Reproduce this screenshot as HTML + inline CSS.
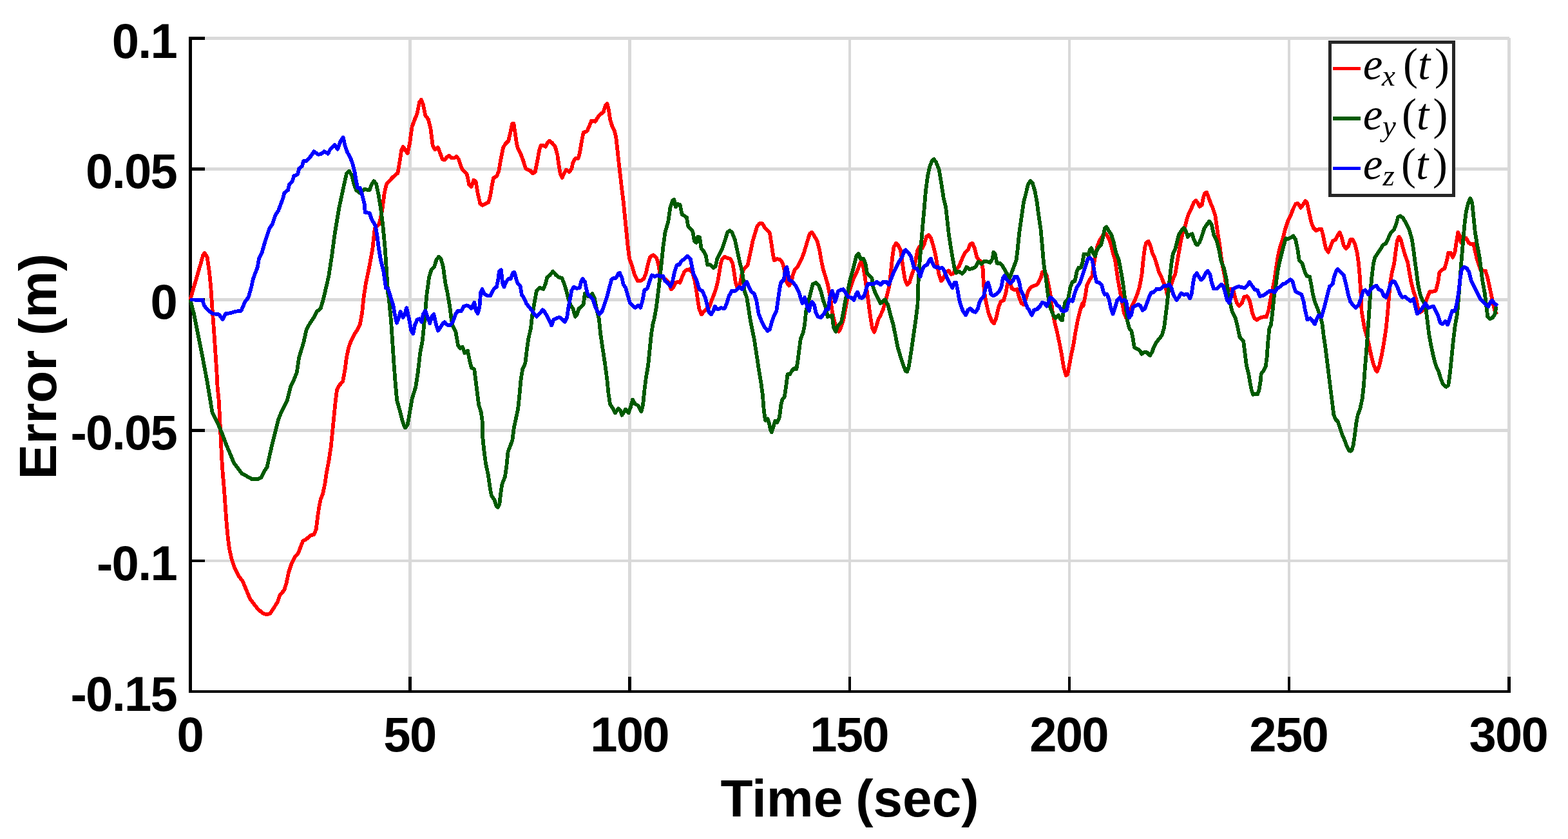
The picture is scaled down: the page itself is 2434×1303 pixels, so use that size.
<!DOCTYPE html>
<html lang="en"><head><meta charset="utf-8"><title>Error vs Time</title>
<style>html,body{margin:0;padding:0;background:#fff;}body{width:2434px;height:1303px;overflow:hidden;}svg{display:block;}.t{font-family:"Liberation Sans",sans-serif;font-weight:bold;fill:#000;}.m{font-family:"Liberation Serif","DejaVu Serif",serif;font-style:italic;fill:#000;}.r{font-family:"Liberation Serif","DejaVu Serif",serif;font-style:normal;fill:#000;}</style></head><body>
<svg width="2434" height="1303" viewBox="0 0 2434 1303" role="img" aria-label="Error versus time plot">
<rect x="0" y="0" width="2434" height="1303" fill="#ffffff"/>
<g fill="#d9d9d9" shape-rendering="crispEdges">
<rect x="634" y="57" width="5" height="1015"/>
<rect x="975" y="57" width="5" height="1015"/>
<rect x="1317" y="57" width="4" height="1015"/>
<rect x="1658" y="57" width="4" height="1015"/>
<rect x="1999" y="57" width="4" height="1015"/>
<rect x="2340" y="59" width="5" height="1013"/>
<rect x="298" y="57" width="2045" height="5"/>
<rect x="298" y="260" width="2047" height="5"/>
<rect x="298" y="463" width="2047" height="5"/>
<rect x="298" y="666" width="2047" height="5"/>
<rect x="298" y="869" width="2047" height="4"/>
</g>
<g fill="#000" shape-rendering="crispEdges">
<rect x="293" y="57" width="5" height="1019"/>
<rect x="293" y="1072" width="2052" height="4"/>
<rect x="634" y="1051" width="5" height="21"/>
<rect x="975" y="1051" width="5" height="21"/>
<rect x="1317" y="1051" width="4" height="21"/>
<rect x="1658" y="1051" width="4" height="21"/>
<rect x="1999" y="1051" width="4" height="21"/>
<rect x="2340" y="1051" width="5" height="21"/>
<rect x="298" y="57" width="20" height="5"/>
<rect x="298" y="260" width="20" height="5"/>
<rect x="298" y="463" width="20" height="5"/>
<rect x="298" y="666" width="20" height="5"/>
<rect x="298" y="869" width="20" height="4"/>
</g>
<g fill="none" stroke-width="5.8" stroke-linejoin="round" stroke-linecap="butt" shape-rendering="crispEdges">
<polyline stroke="#ff0000" points="295.3,465.5 304.6,433.3 311.3,410.3 315.0,396.9 317.5,393.0 321.5,398.8 324.9,421.8 327.2,444.8 329.5,479.4 331.8,509.1 334.1,543.6 336.4,578.2 337.6,601.2 339.9,624.2 341.0,647.3 342.2,670.3 343.3,693.3 344.5,716.4 346.1,740.1 346.8,746.1 348.6,769.1 350.2,792.1 351.9,815.2 353.7,833.6 356.0,852.0 359.5,868.1 364.1,881.9 369.8,893.5 376.7,902.7 382.5,916.5 388.2,930.3 395.2,939.5 400.9,946.4 407.8,952.2 413.6,954.5 419.3,952.9 425.1,944.1 430.8,934.9 434.3,924.5 441.2,916.5 444.7,905.0 448.1,888.8 452.7,875.0 457.3,865.8 463.1,858.9 466.5,849.7 470.0,840.5 475.8,837.0 482.7,831.3 487.3,830.1 490.7,822.1 493.0,803.6 495.3,787.5 497.6,776.0 501.1,766.8 504.5,750.7 506.8,734.5 510.3,716.4 513.8,693.3 516.1,670.3 518.4,647.3 520.7,624.2 523.0,605.8 526.4,598.9 532.2,592.0 535.6,573.6 537.9,555.2 541.4,539.0 544.8,529.8 550.6,518.3 555.2,511.4 558.7,504.5 562.1,486.1 564.4,463.0 567.9,440.2 573.6,412.6 578.2,387.3 581.7,355.0 588.6,348.1 593.2,327.4 596.7,299.8 600.1,285.9 609.3,275.6 617.4,268.7 620.8,249.1 623.2,233.0 625.8,227.9 629.2,233.6 632.7,238.2 636.1,222.1 639.6,196.8 643.0,187.6 647.6,176.1 651.1,158.8 653.9,154.9 656.8,162.2 660.3,179.5 664.9,185.3 668.4,199.1 671.8,226.7 675.3,232.5 679.9,229.0 683.3,238.2 686.8,247.5 690.2,248.6 693.7,244.0 697.2,241.7 700.6,245.2 705.2,245.6 708.7,242.8 712.1,247.5 716.7,261.3 720.2,265.9 724.8,270.5 728.2,286.6 731.7,290.1 735.2,279.7 738.6,282.0 742.1,302.7 745.5,316.5 749.0,318.8 753.6,316.5 758.2,314.2 760.9,305.0 763.9,286.6 766.2,276.2 770.8,273.9 774.3,265.9 777.8,245.2 781.2,229.0 784.7,223.3 789.3,218.7 792.7,203.7 795.0,192.2 797.3,191.7 799.6,206.0 801.9,222.1 804.2,231.3 808.8,240.5 812.3,249.8 815.8,261.3 819.2,263.6 822.7,264.7 827.3,269.3 830.7,267.0 834.2,249.8 837.6,231.3 839.9,225.6 843.4,225.6 846.8,227.9 850.3,221.0 852.6,218.7 857.2,222.1 861.8,227.9 865.3,240.5 867.6,256.7 869.9,270.5 872.6,276.2 875.6,269.3 879.1,263.6 883.7,267.0 887.2,262.4 889.5,252.1 892.9,246.3 897.5,246.3 899.8,238.2 903.3,217.5 905.6,206.0 911.3,203.7 914.8,195.6 918.2,187.6 924.0,188.7 929.8,179.5 936.7,173.8 940.1,163.4 942.4,161.1 944.7,169.2 947.0,185.3 950.5,196.8 953.9,203.7 956.2,212.9 958.5,233.6 960.8,254.4 963.2,275.1 965.5,295.8 967.8,314.2 970.1,337.3 972.4,360.3 974.7,383.3 977.0,401.8 980.7,411.3 985.3,427.4 989.9,436.6 994.5,436.1 999.2,433.2 1002.6,425.1 1006.1,409.0 1009.5,398.6 1014.1,396.3 1018.7,399.8 1021.7,409.0 1024.5,425.1 1029.1,432.0 1033.7,434.3 1038.3,438.9 1041.8,449.3 1045.2,445.8 1048.7,438.9 1052.1,437.8 1055.6,438.9 1059.0,429.7 1062.5,421.6 1065.9,419.3 1070.5,418.2 1075.2,423.9 1078.6,436.6 1080.9,450.4 1083.2,466.5 1085.5,480.4 1089.0,488.4 1092.4,483.8 1095.9,480.4 1100.5,478.1 1103.9,468.8 1107.4,459.6 1110.8,450.4 1114.3,436.6 1116.6,422.8 1118.9,409.0 1121.2,402.1 1124.7,398.6 1129.3,400.9 1133.9,402.1 1137.3,409.0 1139.6,422.8 1141.9,438.9 1144.2,445.8 1148.8,441.2 1151.2,427.4 1154.6,418.2 1160.4,412.4 1162.7,402.1 1166.1,385.9 1168.4,374.4 1171.9,362.9 1175.3,351.4 1178.8,347.2 1183.4,347.2 1188.0,354.8 1191.5,358.3 1194.9,361.8 1197.2,376.7 1199.5,392.8 1201.8,404.4 1206.4,402.1 1211.0,403.2 1214.5,407.8 1216.8,415.9 1219.1,427.4 1221.4,438.9 1224.8,443.5 1228.3,438.9 1230.6,427.4 1234.1,418.2 1238.7,413.6 1243.3,404.4 1247.9,392.8 1251.3,381.3 1254.8,369.8 1257.1,362.9 1260.5,360.6 1264.0,366.4 1268.6,374.4 1272.1,388.2 1274.4,402.1 1277.8,418.2 1281.3,429.7 1284.7,441.2 1287.0,452.7 1289.3,464.2 1291.6,482.7 1295.1,498.8 1298.5,510.3 1302.0,514.9 1304.6,510.2 1309.2,496.4 1312.7,477.9 1316.1,459.5 1320.7,445.7 1325.3,431.9 1329.9,422.7 1333.4,413.5 1336.8,405.4 1340.3,415.8 1342.6,429.6 1344.9,445.7 1347.2,461.8 1349.5,480.2 1351.8,496.4 1354.1,510.2 1357.1,515.9 1359.9,507.9 1363.3,496.4 1366.8,489.5 1370.2,482.5 1373.7,471.0 1377.2,457.2 1380.6,443.4 1382.9,422.7 1385.2,399.6 1387.5,383.5 1391.0,377.8 1394.4,381.2 1397.9,388.1 1400.2,404.2 1402.5,420.4 1404.8,434.2 1408.2,442.2 1411.7,438.8 1415.2,427.3 1418.6,418.1 1420.9,406.5 1424.4,388.1 1427.8,382.4 1431.3,385.8 1434.7,378.9 1438.2,367.4 1441.6,365.1 1445.1,369.7 1448.5,381.2 1452.0,395.0 1454.8,411.2 1457.8,427.3 1461.2,436.5 1464.7,431.9 1468.1,422.7 1472.7,420.4 1476.2,426.1 1479.6,425.0 1484.2,418.1 1488.8,413.5 1493.5,401.9 1498.1,392.7 1502.7,388.1 1506.1,378.9 1509.6,377.8 1513.0,385.8 1516.5,399.6 1519.9,404.2 1523.4,406.5 1525.7,418.1 1526.8,438.8 1528.5,457.2 1531.5,473.3 1534.9,487.2 1539.5,498.7 1543.0,502.1 1546.4,494.1 1549.9,477.9 1553.3,468.7 1557.9,466.4 1561.4,454.9 1563.7,441.1 1567.2,434.2 1570.6,448.0 1575.2,450.3 1578.7,449.2 1582.1,461.8 1585.6,471.0 1589.0,473.3 1592.5,464.1 1595.9,452.6 1600.5,445.7 1606.3,443.4 1610.9,441.1 1615.5,431.9 1617.8,422.7 1621.3,421.5 1624.7,427.3 1627.0,438.8 1630.5,457.2 1633.9,485.2 1637.4,501.3 1640.8,515.2 1644.3,531.3 1647.8,549.7 1651.2,570.4 1654.7,583.1 1657.0,581.9 1659.3,570.4 1662.7,552.0 1666.2,535.9 1669.6,515.2 1673.1,496.7 1676.5,482.9 1680.0,471.4 1681.5,475.0 1684.9,458.8 1687.2,442.7 1690.7,435.8 1695.3,428.9 1697.6,412.8 1699.9,399.0 1703.3,382.8 1706.8,373.6 1711.4,366.7 1716.0,362.1 1720.6,369.0 1724.1,378.2 1727.5,392.1 1731.0,403.6 1733.3,419.7 1735.6,435.8 1739.0,454.2 1742.5,472.7 1744.8,486.5 1748.2,493.4 1752.8,491.1 1756.3,477.3 1760.9,468.1 1765.5,456.5 1769.0,445.0 1772.4,426.6 1774.7,403.6 1777.0,385.2 1779.3,377.1 1782.8,374.8 1786.2,382.8 1788.5,392.1 1792.0,399.0 1795.5,410.5 1798.9,422.0 1802.4,428.9 1805.8,438.1 1809.3,445.0 1811.6,456.5 1815.0,451.9 1818.5,440.4 1821.9,431.2 1824.2,426.6 1826.5,412.8 1828.8,399.0 1832.3,378.2 1835.8,362.1 1839.2,352.9 1842.7,339.1 1846.1,329.9 1849.6,323.0 1853.0,314.9 1856.5,311.5 1859.9,316.1 1862.2,320.7 1865.7,318.4 1868.0,306.8 1870.3,299.9 1873.1,298.8 1876.1,306.8 1879.5,316.1 1883.0,324.1 1886.4,334.5 1888.7,350.6 1891.0,366.7 1893.3,380.5 1895.6,399.0 1897.9,412.8 1901.4,431.2 1903.7,447.3 1907.2,451.9 1910.6,448.5 1914.1,449.6 1916.4,458.8 1919.8,470.4 1923.3,475.0 1927.9,470.4 1931.3,461.2 1935.9,460.0 1939.4,465.8 1941.7,475.0 1944.0,486.5 1947.5,494.5 1950.9,496.8 1956.7,493.4 1961.3,492.2 1965.9,492.2 1969.3,481.9 1971.6,468.1 1975.1,451.9 1978.5,433.5 1980.8,417.4 1983.5,399.8 1986.9,383.6 1991.5,369.8 1995.0,356.0 1999.6,342.2 2004.2,333.0 2007.6,323.8 2011.1,316.8 2014.5,315.7 2019.2,322.6 2022.6,318.0 2026.1,312.2 2028.8,314.5 2031.8,328.4 2035.3,344.5 2038.7,353.7 2043.3,358.3 2047.9,356.0 2051.4,356.0 2053.7,365.2 2056.0,376.7 2058.3,385.9 2061.8,391.7 2065.2,383.6 2068.7,374.4 2073.3,372.1 2076.7,365.2 2079.5,360.6 2082.5,367.5 2085.9,381.3 2089.4,385.9 2092.8,382.5 2096.3,372.1 2099.8,372.1 2103.2,379.0 2106.7,392.8 2109.0,409.0 2110.8,429.7 2112.4,455.0 2113.6,482.7 2115.9,496.5 2118.2,510.3 2121.6,521.8 2125.1,535.6 2128.5,551.8 2132.0,565.6 2135.5,574.8 2137.8,577.1 2141.2,567.9 2144.7,551.8 2148.1,533.3 2151.6,510.3 2153.9,487.3 2156.2,459.6 2158.5,436.6 2160.8,422.8 2164.2,409.0 2166.5,390.5 2168.8,374.4 2171.6,367.5 2174.6,372.1 2178.1,385.9 2181.5,397.5 2185.0,406.7 2187.3,420.5 2190.7,438.9 2194.2,452.7 2197.6,461.9 2201.1,478.1 2204.5,485.0 2208.0,482.7 2211.5,473.5 2214.9,464.2 2219.5,452.7 2224.1,452.7 2228.7,451.6 2232.2,438.9 2234.5,422.8 2237.9,419.3 2242.5,417.0 2246.0,404.4 2248.3,392.8 2251.8,392.8 2255.2,399.8 2258.7,390.5 2261.0,374.4 2263.3,360.6 2265.6,365.2 2267.9,376.7 2271.3,372.1 2275.9,369.8 2279.4,376.7 2282.8,379.0 2287.5,379.0 2289.8,390.5 2293.2,404.4 2297.8,418.2 2302.4,420.5 2305.9,420.5 2309.3,432.0 2312.8,448.1 2316.2,464.2 2319.7,480.4 2323.2,488.4"/>
<polyline stroke="#005a00" points="295.3,465.5 300.7,486.1 307.6,520.6 314.5,555.2 321.5,592.0 326.1,619.6 329.5,640.4 337.6,656.5 344.5,672.6 351.4,691.0 358.3,707.2 362.9,718.7 369.8,727.9 375.6,735.7 382.5,739.2 390.5,743.8 399.8,744.4 405.5,741.5 410.1,732.2 414.7,725.3 417.0,714.1 422.8,688.7 427.4,670.3 432.0,651.9 436.6,640.4 445.8,621.9 451.6,598.9 456.2,589.7 460.8,578.2 464.2,555.2 471.2,532.1 475.8,511.4 480.4,503.3 487.3,493.0 491.9,483.8 497.6,479.2 501.1,467.6 504.5,453.8 510.3,428.7 514.9,398.8 519.5,364.2 526.4,322.8 533.3,290.5 537.9,269.8 541.9,265.7 546.0,272.1 549.5,285.9 552.9,295.2 558.7,299.8 565.6,294.0 573.6,295.2 577.1,285.9 580.5,281.3 584.0,285.9 587.5,302.1 590.9,322.8 594.4,350.4 597.8,387.3 600.1,421.8 602.4,456.4 603.6,463.0 607.0,497.6 609.3,532.1 611.6,566.7 613.9,596.6 616.2,621.9 620.8,638.1 625.5,656.5 628.9,664.5 632.7,659.8 636.1,640.2 639.6,619.5 645.3,601.1 648.8,578.1 652.2,548.1 655.7,529.7 659.2,495.2 662.6,456.0 666.1,430.7 669.5,419.2 674.1,414.5 677.6,403.0 681.0,398.9 684.5,401.9 687.9,414.5 691.4,439.9 694.8,456.0 698.3,476.7 700.6,495.2 702.9,506.7 707.5,515.9 711.0,536.6 714.4,541.2 717.9,538.9 721.3,548.1 725.9,544.7 729.4,561.9 731.7,571.2 736.3,573.5 738.6,591.9 740.9,610.3 743.2,628.7 746.7,640.2 749.0,656.4 749.4,680.6 751.3,699.0 754.0,719.8 757.5,735.9 760.5,756.6 762.8,769.3 767.4,776.2 770.8,786.5 773.2,787.7 775.5,781.9 777.3,765.8 779.4,752.0 784.0,740.5 786.3,724.4 788.6,701.3 792.3,692.1 795.5,682.9 797.8,664.5 800.8,650.7 804.2,634.5 806.5,612.6 808.8,587.3 811.2,573.5 815.3,564.2 818.1,541.2 820.4,525.1 823.8,511.3 826.1,490.5 829.6,469.8 833.0,451.4 837.6,446.8 843.4,449.1 846.8,441.0 849.2,430.7 853.8,427.2 858.4,421.5 863.0,427.2 867.6,430.7 872.2,431.8 875.6,439.9 879.1,451.4 882.5,465.2 886.0,474.4 889.5,479.0 892.9,491.7 895.2,489.4 898.7,479.0 902.1,476.7 905.6,473.3 907.9,456.0 911.3,459.5 915.9,460.6 919.4,456.0 922.8,462.9 926.3,481.3 929.8,495.2 932.1,518.2 935.5,541.2 939.0,564.2 942.4,589.6 944.7,612.6 947.0,627.6 951.6,634.5 955.1,641.4 959.7,634.5 963.2,637.9 965.5,644.8 971.2,635.6 975.8,641.4 979.3,631.0 982.0,620.7 986.2,627.6 990.8,629.9 995.4,639.1 998.0,629.7 1000.3,606.7 1002.6,588.2 1006.1,567.5 1008.4,544.5 1010.7,521.5 1013.4,503.0 1015.3,496.5 1018.7,478.1 1022.2,450.4 1025.6,420.5 1029.1,385.9 1032.5,360.6 1037.2,344.5 1040.6,321.5 1044.1,311.1 1046.4,309.9 1048.7,321.5 1052.1,316.8 1055.6,318.0 1058.6,333.0 1062.5,335.3 1065.9,337.6 1068.2,351.4 1071.7,354.8 1075.2,359.5 1077.9,374.4 1080.9,376.7 1083.2,367.5 1086.2,368.7 1088.5,385.9 1092.4,390.5 1095.9,397.5 1098.2,411.3 1102.8,411.3 1107.4,415.9 1110.8,413.6 1113.2,402.1 1116.6,395.2 1121.2,385.9 1125.8,372.1 1129.3,360.6 1132.7,358.3 1136.2,360.6 1140.8,372.1 1144.2,388.2 1147.7,404.4 1151.2,418.2 1153.5,432.0 1155.8,452.7 1159.2,461.9 1161.5,475.8 1163.8,491.9 1167.3,510.3 1170.7,526.4 1174.2,549.1 1177.6,572.1 1181.1,592.8 1183.9,613.6 1185.7,636.6 1188.0,652.7 1191.5,650.4 1193.8,657.3 1196.1,667.7 1197.9,671.2 1200.7,661.9 1203.0,653.9 1206.4,656.2 1209.9,648.1 1212.2,629.7 1214.5,620.5 1217.9,615.9 1220.2,599.8 1222.5,581.3 1226.0,581.3 1229.5,575.6 1232.9,572.1 1236.4,573.3 1238.7,558.3 1241.0,539.9 1242.8,526.1 1246.7,516.8 1249.0,505.3 1251.3,482.7 1254.8,468.8 1257.1,459.6 1259.4,450.4 1261.7,441.2 1266.3,438.9 1270.9,443.5 1274.4,452.7 1277.8,466.5 1281.3,475.8 1284.7,491.9 1288.2,490.7 1291.6,489.6 1293.9,508.0 1297.4,514.9 1300.8,505.7 1305.8,501.0 1309.2,484.8 1312.7,464.1 1316.1,452.6 1319.6,434.2 1323.0,422.7 1326.5,408.8 1329.5,397.3 1332.7,393.9 1335.7,401.9 1340.3,401.9 1343.3,408.8 1346.1,425.0 1349.5,428.4 1353.4,431.9 1355.3,445.7 1358.7,454.9 1363.3,464.1 1366.8,471.0 1370.2,468.7 1373.7,465.3 1378.3,473.3 1381.8,487.5 1386.4,503.6 1389.8,519.8 1393.3,538.2 1397.9,554.3 1402.5,568.1 1405.9,576.2 1408.2,577.3 1410.5,570.4 1412.8,556.6 1415.2,540.5 1417.5,524.4 1419.8,508.2 1422.1,492.1 1424.4,473.7 1425.5,438.8 1427.8,404.2 1430.1,376.6 1432.4,349.0 1434.7,323.6 1437.0,296.0 1440.5,270.7 1443.9,256.8 1447.4,248.8 1449.7,247.2 1453.2,252.2 1457.8,263.8 1461.2,284.5 1464.7,307.5 1468.1,321.3 1470.4,342.1 1472.7,362.8 1475.5,381.2 1478.5,399.6 1481.9,418.1 1484.2,423.8 1488.8,421.5 1493.5,425.0 1496.9,421.5 1500.4,414.6 1505.0,418.1 1509.6,416.9 1514.2,414.6 1518.8,406.5 1523.4,410.0 1528.0,405.4 1532.6,406.5 1537.2,407.7 1540.7,401.9 1542.3,391.6 1544.6,393.9 1547.6,408.8 1552.2,408.8 1555.6,412.3 1559.1,418.1 1563.7,426.1 1567.2,431.9 1570.6,422.7 1574.1,413.5 1577.5,404.2 1579.8,385.8 1582.1,362.8 1585.6,337.5 1589.0,314.4 1592.5,300.6 1595.9,286.8 1599.4,281.0 1602.8,284.5 1606.3,296.0 1609.8,314.4 1612.1,332.8 1615.5,355.9 1617.8,381.2 1620.1,408.8 1623.6,431.9 1627.0,459.5 1630.5,477.9 1635.1,489.5 1638.5,494.1 1643.2,489.5 1646.6,496.4 1648.9,497.5 1651.2,480.2 1653.5,468.7 1658.1,464.1 1661.6,445.7 1665.0,437.6 1668.5,436.5 1671.9,420.4 1674.2,415.8 1677.7,415.8 1680.3,408.2 1682.6,394.4 1686.1,394.4 1689.5,396.7 1691.8,387.5 1694.1,385.2 1696.4,392.1 1699.9,397.8 1702.2,389.8 1705.6,384.0 1709.1,380.5 1712.5,366.7 1714.8,355.2 1717.6,352.4 1720.6,357.5 1725.2,364.4 1728.7,375.9 1732.1,392.1 1736.7,403.6 1740.2,422.0 1743.6,442.7 1745.9,461.2 1748.2,481.9 1750.5,500.3 1752.8,509.5 1756.3,514.1 1758.6,525.6 1760.9,539.5 1765.5,541.8 1769.0,544.1 1772.4,549.8 1777.0,546.4 1780.5,547.5 1785.1,552.1 1788.5,546.4 1790.8,539.5 1794.3,532.5 1798.9,526.8 1803.5,521.0 1807.0,509.5 1809.3,491.1 1811.6,472.7 1813.9,449.6 1816.2,428.9 1818.5,408.2 1820.8,394.4 1824.2,387.5 1827.7,373.6 1830.0,364.4 1833.5,358.7 1837.6,354.1 1840.4,357.5 1843.8,367.9 1847.3,364.4 1850.7,363.3 1853.0,371.3 1856.5,379.4 1858.8,380.5 1862.2,375.9 1865.7,366.7 1869.2,355.2 1873.8,348.3 1877.2,343.7 1880.7,348.3 1884.1,364.4 1888.7,373.6 1892.2,387.5 1895.6,405.9 1900.2,417.4 1903.7,433.5 1906.0,451.9 1909.5,470.4 1912.9,484.2 1917.5,493.4 1921.0,507.2 1924.4,523.3 1930.2,530.2 1932.5,548.2 1934.8,566.7 1938.2,580.5 1940.5,594.3 1942.8,605.8 1945.2,612.7 1948.6,611.6 1952.1,612.3 1954.4,605.8 1956.7,592.0 1957.8,580.5 1961.3,575.9 1964.7,569.0 1966.6,555.2 1968.2,532.1 1970.5,509.1 1972.8,504.9 1975.1,486.5 1977.4,463.5 1980.8,440.4 1983.2,422.0 1985.5,410.5 1988.9,396.7 1992.4,382.8 1995.8,370.2 1999.6,371.0 2004.2,368.7 2007.6,366.4 2011.1,372.1 2014.5,388.2 2016.8,404.4 2021.5,409.0 2024.9,420.5 2028.4,428.5 2033.0,429.7 2035.3,441.2 2037.6,455.0 2041.0,468.8 2045.6,480.4 2049.1,489.6 2052.5,503.4 2054.8,522.2 2057.2,538.3 2059.5,556.7 2061.8,575.2 2064.1,593.6 2066.4,612.0 2068.7,630.4 2070.3,644.2 2073.3,651.2 2076.7,654.6 2080.2,665.0 2083.6,675.3 2087.1,683.4 2090.5,692.6 2094.0,699.5 2096.3,700.7 2098.6,698.4 2100.9,690.3 2103.2,674.2 2105.5,655.8 2107.8,644.2 2111.3,635.0 2114.7,618.9 2117.0,598.2 2118.6,575.2 2120.5,552.1 2122.3,529.1 2125.1,487.3 2127.4,452.7 2129.7,427.4 2132.0,409.0 2134.3,399.8 2138.9,392.8 2143.5,385.9 2147.0,380.2 2151.6,377.9 2156.2,367.5 2159.6,360.6 2164.2,356.0 2167.7,346.8 2170.0,337.6 2173.5,335.3 2178.1,338.7 2182.7,346.8 2187.3,356.0 2191.9,372.1 2194.2,388.2 2196.5,406.7 2198.8,422.8 2201.1,441.2 2204.5,457.3 2208.0,466.5 2211.5,471.2 2213.8,482.7 2216.1,501.5 2218.4,519.9 2221.8,538.3 2225.3,554.4 2228.7,567.1 2233.3,577.5 2236.8,589.0 2240.2,597.0 2244.8,600.9 2248.3,598.2 2249.9,586.7 2251.8,570.5 2253.6,552.1 2255.9,529.1 2258.7,506.1 2262.1,487.3 2264.4,459.6 2266.7,429.7 2269.0,399.8 2271.3,372.1 2273.6,346.8 2275.9,328.4 2279.4,314.5 2282.2,308.1 2285.2,314.5 2287.5,337.6 2289.8,360.6 2293.2,381.3 2296.7,399.8 2299.0,418.2 2301.3,436.6 2304.7,455.0 2307.0,473.5 2309.3,491.9 2312.8,495.3 2317.4,493.0 2320.8,487.3 2322.5,475.8"/>
<polyline stroke="#0000ff" points="295.3,465.5 314.5,465.8 316.8,474.5 323.8,482.6 330.7,487.2 339.9,488.4 345.6,496.0 350.2,487.2 358.3,486.1 365.2,483.8 374.4,482.6 377.9,474.5 380.2,468.8 384.8,463.0 385.9,461.0 390.5,444.8 392.8,433.3 399.8,414.9 402.1,401.1 406.7,391.9 411.3,375.8 418.2,355.0 422.8,348.1 427.4,334.3 432.0,327.4 435.5,318.2 438.9,309.0 441.2,299.8 447.0,295.2 449.3,285.9 453.9,281.3 456.2,273.3 461.9,271.0 464.2,261.8 468.8,258.3 471.2,250.2 475.8,250.2 482.7,242.2 487.3,235.3 494.2,239.9 498.8,238.7 503.4,235.3 509.2,238.7 512.6,231.8 519.5,224.9 524.1,231.8 528.7,219.2 532.6,213.4 535.6,226.1 539.1,236.4 543.7,244.5 547.2,253.7 550.6,267.5 552.9,281.3 555.2,291.7 558.7,291.7 562.1,302.1 565.6,315.9 566.7,329.7 573.6,330.8 577.1,341.2 582.8,350.4 585.2,364.2 587.5,382.7 590.9,403.4 595.5,421.8 599.0,447.2 602.4,448.3 607.0,463.3 610.5,474.5 612.8,488.4 615.8,501.7 618.5,495.3 621.5,483.8 625.5,493.0 627.8,489.5 631.2,478.0 635.0,495.2 638.4,513.6 641.2,518.2 644.2,504.4 647.6,496.3 651.1,495.2 654.5,499.8 656.8,488.2 660.3,482.5 663.8,492.8 667.2,502.1 670.7,490.5 673.4,488.2 676.4,502.1 679.9,513.6 683.3,509.0 687.9,502.1 690.2,500.2 693.7,504.4 698.3,505.5 702.9,499.8 707.5,487.1 711.0,482.5 715.6,483.6 720.2,475.6 724.8,474.4 728.2,475.6 731.7,479.0 736.3,469.8 738.6,481.3 741.6,487.1 744.4,476.7 746.2,453.7 748.5,449.1 752.4,457.2 757.0,459.5 760.9,459.5 765.1,451.4 767.4,447.9 770.8,445.6 773.2,435.3 774.8,421.5 777.8,419.2 780.1,439.9 782.4,445.6 785.8,437.6 789.3,433.0 792.7,433.0 796.2,423.8 798.5,422.6 801.9,435.3 804.2,441.0 807.7,444.5 810.0,458.3 813.5,462.9 816.9,471.0 820.4,475.6 825.0,481.3 829.6,488.2 833.0,491.7 837.6,487.1 842.2,481.3 845.7,484.8 850.3,492.8 853.8,499.8 856.1,505.5 859.5,496.3 864.1,494.0 868.7,492.8 873.3,496.3 876.8,499.8 880.2,492.8 882.5,476.7 884.8,465.2 887.2,451.4 890.6,445.6 895.2,447.9 899.8,446.8 902.1,437.6 904.4,433.0 907.9,437.6 910.2,449.1 912.5,457.2 915.9,460.6 920.5,465.2 924.0,476.7 927.5,483.6 930.4,488.2 934.4,483.6 937.8,474.4 942.4,460.6 945.9,446.8 949.3,434.1 952.8,431.8 956.2,431.8 959.7,424.9 962.0,423.8 965.5,431.8 967.8,442.2 971.2,446.8 974.7,459.5 978.1,471.0 982.7,475.6 986.2,477.9 990.8,474.4 994.2,477.9 998.0,464.2 1000.3,450.4 1004.9,448.1 1008.4,436.6 1011.8,427.4 1016.4,429.7 1021.0,427.4 1025.6,429.7 1029.1,428.5 1032.5,436.6 1036.0,438.9 1040.6,444.7 1044.1,436.6 1047.5,420.5 1051.0,411.3 1054.4,411.3 1057.9,405.5 1062.5,402.1 1067.1,397.5 1071.7,402.1 1074.0,413.6 1076.3,425.1 1080.9,434.3 1085.5,449.3 1090.1,451.6 1094.7,461.9 1098.2,475.8 1100.5,485.0 1103.9,488.4 1107.4,482.7 1109.7,475.8 1114.3,480.4 1118.9,478.1 1124.7,479.2 1128.1,471.2 1131.6,459.6 1136.2,451.6 1141.9,451.6 1147.7,445.8 1152.3,449.3 1155.8,442.4 1159.2,437.8 1162.7,445.8 1166.1,452.7 1170.7,456.2 1174.2,466.5 1177.6,487.3 1182.2,498.8 1186.8,508.0 1191.5,513.8 1194.9,511.5 1198.4,498.8 1201.8,489.6 1205.3,482.7 1207.6,466.5 1209.9,450.4 1212.2,438.9 1216.8,434.3 1219.1,418.2 1221.4,414.7 1224.8,434.3 1230.6,437.8 1236.4,445.8 1239.8,452.7 1243.3,464.2 1245.6,471.2 1249.0,461.9 1251.3,468.8 1253.6,478.1 1255.9,482.7 1258.2,473.5 1260.5,468.8 1264.0,473.5 1266.3,485.0 1269.8,491.9 1274.4,493.0 1279.0,487.3 1282.4,480.4 1285.9,480.4 1288.2,461.9 1291.6,451.6 1293.9,457.3 1296.2,468.8 1298.5,461.9 1300.8,452.7 1304.6,450.3 1309.2,449.2 1312.7,454.9 1316.1,460.7 1320.7,461.8 1325.3,466.0 1328.8,457.2 1331.1,453.8 1334.5,461.8 1338.0,463.0 1341.5,459.5 1344.9,448.0 1347.2,441.1 1351.8,441.1 1356.4,441.1 1361.0,437.6 1366.8,442.2 1371.4,437.6 1376.0,437.6 1379.5,442.2 1382.9,434.2 1386.4,425.0 1391.0,415.8 1395.6,406.5 1400.2,399.6 1403.6,390.4 1405.9,388.1 1410.5,392.7 1414.0,398.5 1416.3,406.5 1418.6,415.8 1423.2,416.9 1426.2,422.7 1428.5,429.6 1431.3,420.4 1434.7,413.5 1439.3,411.2 1442.8,404.2 1445.1,401.9 1447.4,408.8 1450.8,414.6 1455.5,414.6 1458.9,416.9 1462.4,415.8 1465.8,420.4 1469.3,429.6 1472.7,436.5 1476.2,443.4 1478.5,446.8 1481.9,438.8 1484.2,438.8 1486.5,450.3 1488.8,464.1 1491.2,473.3 1494.6,482.5 1499.2,489.5 1502.7,481.4 1506.1,479.1 1510.7,483.7 1514.2,484.8 1517.6,480.2 1519.9,471.0 1523.4,464.1 1526.8,460.7 1529.2,450.3 1531.5,441.1 1533.8,438.8 1536.1,445.7 1538.4,457.2 1541.8,459.5 1546.4,457.2 1551.0,452.6 1554.5,445.7 1556.8,431.9 1559.1,428.4 1562.5,434.2 1568.3,439.9 1572.9,435.3 1575.2,429.6 1578.7,429.6 1582.1,437.6 1584.4,450.3 1587.9,457.2 1591.3,468.7 1594.8,477.9 1598.2,482.5 1601.7,489.5 1605.2,481.4 1609.8,480.2 1614.4,475.6 1617.8,469.9 1621.3,471.0 1624.7,475.6 1628.2,467.6 1630.5,461.8 1633.9,464.1 1637.4,467.6 1640.8,474.5 1644.3,475.6 1647.8,482.5 1651.2,483.7 1655.8,481.4 1658.1,471.0 1660.4,465.3 1665.0,467.6 1668.5,454.9 1671.9,445.7 1676.5,438.8 1679.2,431.2 1682.6,420.8 1686.1,410.5 1688.4,402.4 1691.8,400.1 1695.3,403.6 1697.6,415.1 1699.9,428.9 1702.2,438.1 1706.8,439.3 1710.2,442.7 1712.5,451.9 1714.8,457.7 1718.3,456.5 1721.8,465.8 1724.1,477.3 1727.5,487.6 1731.0,477.3 1734.4,465.8 1737.9,462.3 1741.3,468.1 1744.8,465.8 1748.2,468.1 1750.5,481.9 1752.8,493.4 1756.3,488.8 1758.6,477.3 1762.1,475.0 1766.7,472.7 1770.1,475.0 1773.6,481.9 1777.0,479.6 1780.5,470.4 1783.9,461.2 1787.4,454.2 1790.8,454.2 1795.5,448.5 1800.1,449.6 1803.5,447.3 1807.0,443.9 1811.6,443.9 1815.0,441.6 1818.5,447.3 1821.9,458.8 1826.5,465.8 1830.0,461.2 1833.5,455.4 1838.1,457.7 1842.7,456.5 1847.3,463.5 1849.6,456.5 1851.9,440.4 1854.2,428.9 1857.6,424.3 1861.1,430.1 1864.5,434.7 1868.0,431.2 1871.5,424.3 1874.9,420.8 1878.4,426.6 1880.7,438.1 1884.1,448.5 1888.7,448.5 1892.2,445.0 1895.6,441.6 1899.1,445.0 1902.5,456.5 1904.8,465.8 1908.3,470.4 1911.8,458.8 1914.1,448.5 1918.7,446.2 1923.3,445.0 1927.9,446.2 1932.5,447.3 1935.9,443.9 1939.4,438.1 1942.8,442.7 1947.5,449.6 1952.1,450.8 1955.5,460.0 1961.3,458.8 1965.9,455.4 1970.5,451.9 1975.1,451.9 1978.5,454.2 1982.0,448.5 1988.1,444.7 1991.5,441.2 1995.0,440.1 1999.6,436.6 2003.0,434.3 2006.5,436.6 2008.8,445.8 2011.1,452.7 2015.7,455.0 2020.3,457.3 2023.8,468.8 2026.1,482.7 2029.5,496.5 2034.1,494.2 2037.6,498.8 2041.0,503.4 2044.5,494.2 2046.8,489.6 2051.4,491.9 2054.8,480.4 2058.3,466.5 2061.8,452.7 2064.1,444.7 2068.7,441.2 2071.0,429.7 2074.4,420.5 2076.7,418.2 2081.3,422.8 2085.9,427.4 2089.4,441.2 2092.8,457.3 2096.3,468.8 2100.9,474.6 2104.4,478.1 2109.0,473.5 2112.4,464.2 2115.9,452.7 2119.3,450.4 2123.9,457.3 2127.4,449.3 2132.0,445.8 2136.6,443.5 2140.1,449.3 2144.7,451.6 2148.1,459.6 2151.6,461.9 2155.0,452.7 2158.5,441.2 2161.9,436.6 2165.4,437.8 2168.8,444.7 2173.5,457.3 2176.9,461.9 2181.5,460.8 2185.0,464.2 2189.6,467.7 2194.2,464.2 2197.6,478.1 2199.9,487.3 2204.5,482.7 2208.0,478.1 2212.6,471.2 2217.2,478.1 2220.7,476.9 2225.3,475.8 2228.7,482.7 2232.2,489.6 2235.6,501.1 2239.1,503.4 2243.7,498.8 2247.2,504.5 2250.6,494.2 2254.1,482.7 2258.7,482.7 2261.0,473.5 2264.4,452.7 2266.7,432.0 2269.0,418.2 2272.5,414.7 2277.1,417.0 2280.5,422.8 2284.0,436.6 2288.6,445.8 2293.2,455.0 2297.8,464.2 2302.4,468.8 2307.0,473.5 2310.5,475.8 2313.9,468.8 2316.2,466.5 2319.7,471.2 2323.2,473.5 2324.8,474.6"/>
</g>
<g class="t" font-size="76" letter-spacing="-1.7">
<text x="294.8" y="1167" text-anchor="middle">0</text>
<text x="635.9" y="1167" text-anchor="middle">50</text>
<text x="977.0" y="1167" text-anchor="middle">100</text>
<text x="1318.0" y="1167" text-anchor="middle">150</text>
<text x="1659.1" y="1167" text-anchor="middle">200</text>
<text x="2000.2" y="1167" text-anchor="middle">250</text>
<text x="2341.3" y="1167" text-anchor="middle">300</text>
<text x="274.2" y="89.5" text-anchor="end">0.1</text>
<text x="274.2" y="292.4" text-anchor="end">0.05</text>
<text x="274.2" y="495.3" text-anchor="end">0</text>
<text x="274.2" y="698.2" text-anchor="end">-0.05</text>
<text x="274.2" y="901.1" text-anchor="end">-0.1</text>
<text x="274.2" y="1104.0" text-anchor="end">-0.15</text>
</g>
<text class="t" font-size="82" x="1319" y="1268" word-spacing="-3" text-anchor="middle">Time (sec)</text>
<text class="t" font-size="82" transform="translate(86.8,569) rotate(-90)" text-anchor="middle">Error (m)</text>
<rect x="2064.5" y="65.5" width="192" height="238" fill="#fff" stroke="#262626" stroke-width="5" shape-rendering="crispEdges"/>
<line x1="2069" y1="106.5" x2="2112" y2="106.5" stroke="#ff0000" stroke-width="5.5" shape-rendering="crispEdges"/>
<text y="122.9" font-size="69"><tspan class="m" x="2115.7">e</tspan><tspan class="m" font-size="47" x="2145.0" dy="10.3">x</tspan><tspan class="r" x="2178.0" dy="-10.3">(</tspan><tspan class="m" x="2201.0">t</tspan><tspan class="r" x="2227.0">)</tspan></text>
<line x1="2069" y1="184.0" x2="2112" y2="184.0" stroke="#005a00" stroke-width="5.5" shape-rendering="crispEdges"/>
<text y="200.9" font-size="69"><tspan class="m" x="2115.7">e</tspan><tspan class="m" font-size="47" x="2146.0" dy="10.3">y</tspan><tspan class="r" x="2176.0" dy="-10.3">(</tspan><tspan class="m" x="2199.0">t</tspan><tspan class="r" x="2224.5">)</tspan></text>
<line x1="2069" y1="261.7" x2="2112" y2="261.7" stroke="#0000ff" stroke-width="5.5" shape-rendering="crispEdges"/>
<text y="277.6" font-size="69"><tspan class="m" x="2115.7">e</tspan><tspan class="m" font-size="47" x="2146.5" dy="10.3">z</tspan><tspan class="r" x="2175.0" dy="-10.3">(</tspan><tspan class="m" x="2198.0">t</tspan><tspan class="r" x="2224.0">)</tspan></text>
</svg></body></html>
